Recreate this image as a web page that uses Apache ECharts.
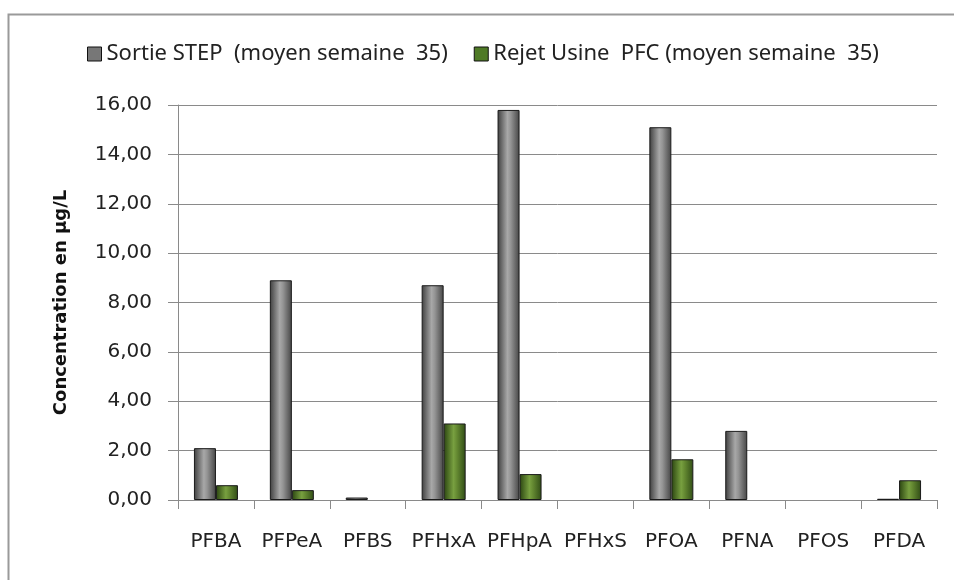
<!DOCTYPE html>
<html>
<head>
<meta charset="utf-8">
<script src="https://cdn.jsdelivr.net/npm/echarts@6/dist/echarts.min.js"></script>
<style>
html,body{margin:0;padding:0;background:#fff;}
#chart{width:954px;height:580px;}
</style>
</head>
<body>
<div id="chart"></div>
<script>
const categories = ['PFBA','PFPeA','PFBS','PFHxA','PFHpA','PFHxS','PFOA','PFNA','PFOS','PFDA'];
const sortieSTEP = [2.1, 8.9, 0.1, 8.7, 15.8, 0, 15.1, 2.8, 0, 0.05];
const rejetUsine = [0.6, 0.4, 0, 3.1, 1.05, 0, 1.65, 0, 0, 0.8];
const seriesNames = ['Sortie STEP  (moyen semaine  35)', 'Rejet Usine  PFC (moyen semaine  35)'];
const yTicks = {min: 0, max: 16, interval: 2};

const grayGrad = new echarts.graphic.LinearGradient(0,0,1,0,[
  {offset:0,color:'#3e3e3e'},{offset:0.45,color:'#a8a8a8'},{offset:0.6,color:'#949494'},{offset:1,color:'#454545'}]);
const greenGrad = new echarts.graphic.LinearGradient(0,0,1,0,[
  {offset:0,color:'#2a4410'},{offset:0.45,color:'#78a040'},{offset:0.6,color:'#658a32'},{offset:1,color:'#304c16'}]);

// zero values are not drawn (no visible mark in the reference)
const toBar = arr => arr.map(v => v === 0 ? '-' : v);

const chart = echarts.init(document.getElementById('chart'), null, {renderer:'canvas'});
chart.setOption({
  backgroundColor:'#fff',
  animation:false,
  graphic:[{type:'rect',left:6,top:12,shape:{width:1000,height:1000},style:{fill:'none',stroke:'#9a9a9a',lineWidth:2},z:-1}],
  legend:{
    left:82, top:38, itemWidth:14, itemHeight:14, itemGap:26,
    textStyle:{fontFamily:'Noto Sans', fontSize:22, color:'#222'},
    data:[
      {name:seriesNames[0], icon:'rect', itemStyle:{color:'#777', borderColor:'#111', borderWidth:1}},
      {name:seriesNames[1], icon:'rect', itemStyle:{color:'#4f7a26', borderColor:'#111', borderWidth:1}}
    ]
  },
  grid:{left:178, right:17, top:105, bottom:80},
  xAxis:{
    type:'category', data:categories,
    axisLine:{lineStyle:{color:'#8a8a8a', width:1}},
    axisTick:{show:true, length:9, lineStyle:{color:'#8a8a8a'}},
    axisLabel:{interval:0, fontFamily:'DejaVu Sans', fontSize:20, color:'#222', margin:32}
  },
  yAxis:{
    type:'value', min:yTicks.min, max:yTicks.max, interval:yTicks.interval,
    name:'Concentration en µg/L', nameLocation:'middle', nameGap:108,
    nameTextStyle:{fontFamily:'DejaVu Sans', fontWeight:'bold', fontSize:18, color:'#111'},
    axisLine:{show:true, lineStyle:{color:'#8a8a8a', width:1}},
    axisTick:{show:true, length:10, lineStyle:{color:'#8a8a8a'}},
    splitLine:{lineStyle:{color:'#8a8a8a', width:1}},
    axisLabel:{fontFamily:'DejaVu Sans', fontSize:20, color:'#222', margin:26,
      formatter:v=>v.toFixed(2).replace('.',',')}
  },
  series:[
    {name:seriesNames[0], type:'bar', data:toBar(sortieSTEP), barWidth:22, barGap:'0%',
     itemStyle:{color:grayGrad, borderColor:'#1a1a1a', borderWidth:1}},
    {name:seriesNames[1], type:'bar', data:toBar(rejetUsine), barWidth:22, barGap:'0%',
     itemStyle:{color:greenGrad, borderColor:'#1a1a1a', borderWidth:1}}
  ]
});
</script>
</body>
</html>
